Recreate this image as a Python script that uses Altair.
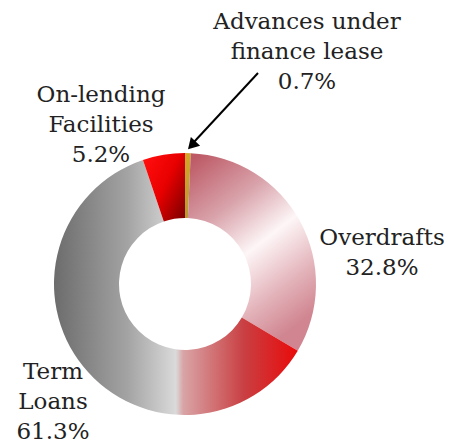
import altair as alt
import pandas as pd

categories = ["Advances under finance lease", "Overdrafts", "Term Loans", "On-lending Facilities"]
values = [0.7, 32.8, 61.3, 5.2]
order = [0, 1, 2, 3]
label_lines = [
    ["Advances under", "finance lease"],
    ["Overdrafts"],
    ["Term", "Loans"],
    ["On-lending", "Facilities"],
]

df = pd.DataFrame({"category": categories, "value": values, "order": order})

W, H = 436, 437
CX, CY = 177, 276
R_IN, R_OUT = 66, 131
FONT = "DejaVu Serif"
FS = 23

def grad(stops, x1=0, y1=0, x2=1, y2=0):
    return alt.LinearGradient(
        gradient="linear",
        stops=[alt.GradientStop(offset=o, color=c) for o, c in stops],
        x1=x1, y1=y1, x2=x2, y2=y2,
    )

fills = {
    "Advances under finance lease": grad([(0, "#d4a52a"), (1, "#b89a30")], 0, 0, 0, 1),
    "Overdrafts": grad([(0, "#bd5a66"), (0.3, "#d9a3ab"), (0.55, "#fdf6f7"), (0.8, "#e3b3ba"), (1, "#d08590")], 0.1, 0, 0.6, 1),
    "Term Loans": grad([(0, "#6c6c6c"), (0.3, "#a3a3a3"), (0.5, "#dadada"), (0.53, "#d9a4a6"), (0.78, "#c93f42"), (1, "#ea0a0a")]),
    "On-lending Facilities": grad([(0, "#ff0d0d"), (0.45, "#e80000"), (1, "#760000")], 0, 0.2, 1, 1),
}

base = (
    alt.Chart(df)
    .transform_window(cum="sum(value)", sort=[alt.SortField("order")], frame=[None, 0])
    .transform_calculate(start="datum.cum - datum.value")
)

layers = []
for cat in categories:
    layers.append(
        base.transform_filter(alt.datum.category == cat)
        .mark_arc(innerRadius=R_IN, outerRadius=R_OUT, fill=fills[cat])
        .encode(
            theta=alt.Theta("start:Q", scale=alt.Scale(domain=[0, 100])),
            theta2="cum:Q",
            x=alt.value(CX),
            y=alt.value(CY),
        )
    )

label_pos = {
    "Advances under finance lease": (299, 14),
    "Overdrafts": (374, 230),
    "Term Loans": (45, 364),
    "On-lending Facilities": (93, 87),
}

for cat, v, lines in zip(categories, values, label_lines):
    x, y = label_pos[cat]
    txt = lines + [f"{v}%"]
    layers.append(
        alt.Chart(df).transform_filter(alt.datum.category == cat)
        .mark_text(font=FONT, fontSize=FS, lineHeight=30, align="center", baseline="middle", color="#222222")
        .encode(x=alt.value(x), y=alt.value(y), text=alt.value(txt))
    )

arrow_line = alt.Chart(df).transform_filter(alt.datum.order == 0).mark_rule(color="black", strokeWidth=2).encode(
    x=alt.value(250), y=alt.value(65), x2=alt.value(186), y2=alt.value(134)
)
arrow_head = alt.Chart(df).transform_filter(alt.datum.order == 0).mark_point(
    shape="triangle", filled=True, color="black", size=160, angle=223, opacity=1
).encode(x=alt.value(185), y=alt.value(136))

chart = alt.layer(*layers, arrow_line, arrow_head).properties(
    width=W, height=H, autosize=alt.AutoSizeParams(type="none"), padding=0
).configure_view(stroke=None)

chart.save("out.html", embed_options={"renderer": "svg", "actions": False})
